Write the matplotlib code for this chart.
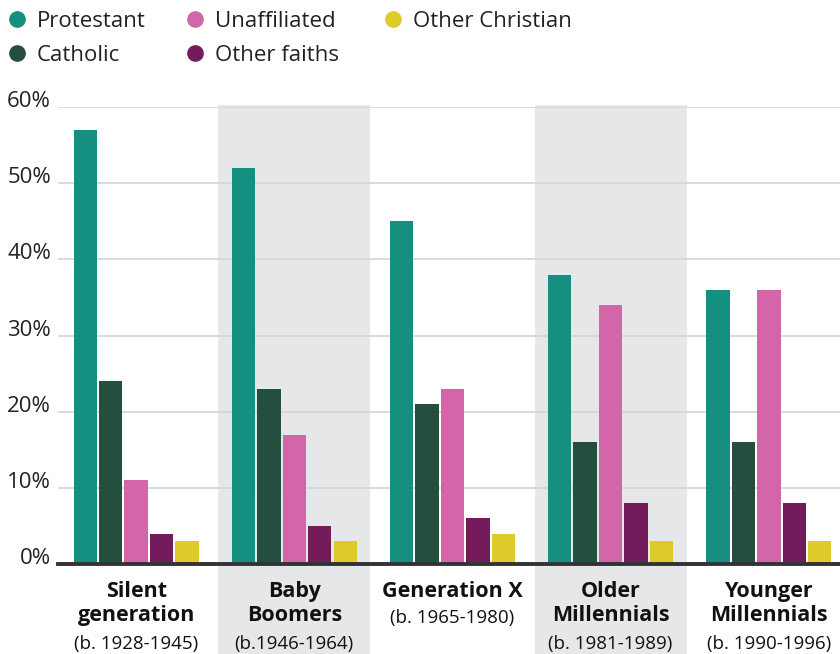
import matplotlib.pyplot as plt
import numpy as np
from matplotlib.lines import Line2D

plt.rcParams['font.family'] = ['Open Sans', 'DejaVu Sans']

# Data
groups = ['Silent\ngeneration', 'Baby\nBoomers', 'Generation X', 'Older\nMillennials', 'Younger\nMillennials']
years = ['(b. 1928-1945)', '(b.1946-1964)', '(b. 1965-1980)', '(b. 1981-1989)', '(b. 1990-1996)']
series = ['Protestant', 'Catholic', 'Unaffiliated', 'Other faiths', 'Other Christian']
protestant = [57, 52, 45, 38, 36]
catholic = [24, 23, 21, 16, 16]
unaffiliated = [11, 17, 23, 34, 36]
other_faiths = [4, 5, 6, 8, 8]
other_christian = [3, 3, 4, 3, 3]
yticks = [0, 10, 20, 30, 40, 50, 60]

values = [protestant, catholic, unaffiliated, other_faiths, other_christian]
colors = ['#158f7f', '#244f3e', '#d266a8', '#741b5c', '#dccb2b']

W, H = 840, 654
fig = plt.figure(figsize=(W / 100, H / 100), dpi=100)
ax = fig.add_axes([58 / W, 1 - 564 / H, 1 - 58 / W, (564 - 107) / H])

x = np.arange(len(groups))
step = 0.161
width = 0.148

# shaded bands behind alternate groups
for i in [1, 3]:
    ax.axvspan(i - 0.48, i + 0.48, ymin=-0.2, ymax=1.005, color='#e6e7e9',
               clip_on=False, zorder=0, lw=0)

for k, (vals, col) in enumerate(zip(values, colors)):
    ax.bar(x + (k - 2) * step, vals, width=width, color=col, zorder=3)

ax.set_xlim(-0.494, 4.45)
ax.set_ylim(0, 60)

for t in yticks[1:]:
    ax.axhline(t, color='#d4d4d4', lw=1.2, zorder=1)
ax.axhline(0, color='#333333', lw=2.8, zorder=4, clip_on=False)

ax.set_yticks(yticks)
ax.set_yticklabels([f'{t}%' for t in yticks], fontsize=16, color='#222222')
for lab in ax.get_yticklabels():
    lab.set_va('baseline')
ax.tick_params(axis='y', length=0, pad=5)
ax.set_xticks([])
for s in ax.spines.values():
    s.set_visible(False)

# group labels
for i, (name, yr) in enumerate(zip(groups, years)):
    nlines = name.count('\n') + 1
    ax.annotate(name, xy=(i, 0), xycoords=('data', 'axes fraction'),
                xytext=(0, -17), textcoords='offset pixels', ha='center', va='top',
                fontsize=15.5, fontweight='bold', color='#111111', linespacing=1.2,
                annotation_clip=False)
    ax.annotate(yr, xy=(i, 0), xycoords=('data', 'axes fraction'),
                xytext=(0, -(71 if nlines == 2 else 45)), textcoords='offset pixels',
                ha='center', va='top', fontsize=13.5, color='#111111',
                annotation_clip=False)

# legend, laid out in three columns
leg_x = [17, 195, 393]
leg_y = [19, 53]
for k, (name, col) in enumerate(zip(series, colors)):
    cx = leg_x[k // 2]
    cy = leg_y[k % 2]
    fig.add_artist(Line2D([cx / W], [1 - cy / H], marker='o', ls='', markersize=11,
                          color=col, transform=fig.transFigure))
    fig.text((cx + 20) / W, 1 - cy / H, name, fontsize=16, color='#222222',
             va='center_baseline', ha='left')

fig.savefig('out.png', dpi=100)
